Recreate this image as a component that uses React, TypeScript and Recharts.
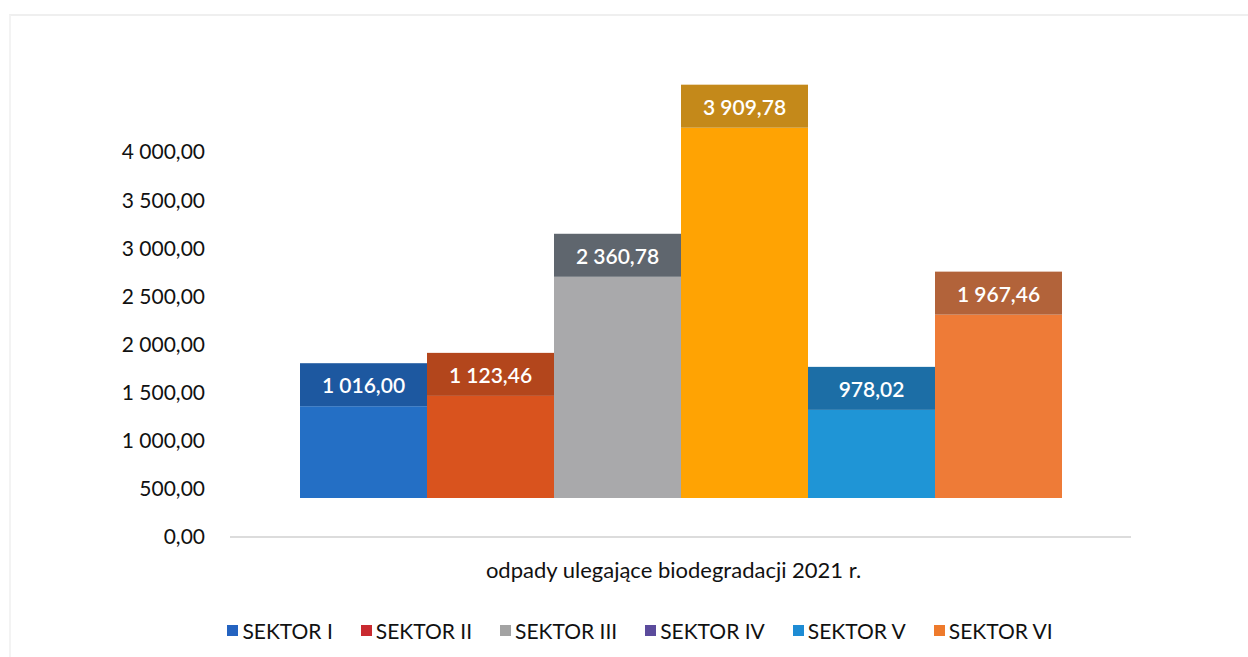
import React from 'react';
import { BarChart, Bar, XAxis, YAxis, Legend } from 'recharts';

const categoryLabel = 'odpady ulegające biodegradacji 2021 r.';
const seriesNames = ['SEKTOR I', 'SEKTOR II', 'SEKTOR III', 'SEKTOR IV', 'SEKTOR V', 'SEKTOR VI'];
const seriesValues = [1016.0, 1123.46, 2360.78, 3909.78, 978.02, 1967.46];
const frontColors = ['#246fc5', '#d9531e', '#a9a9ab', '#ffa303', '#1f95d6', '#ee7b37'];
const topColors = ['#1d58a0', '#b3461c', '#5f666e', '#c4891a', '#1c6ea6', '#b2633a'];
const legendColors = ['#2463c0', '#c92a30', '#a3a3a3', '#5b4b9c', '#1e8cd4', '#ee7a2c'];
const yTicks = [0, 500, 1000, 1500, 2000, 2500, 3000, 3500, 4000];

const keys = seriesNames.map((_, i) => `s${i}`);
const data = [
  seriesNames.reduce(
    (row: Record<string, any>, _n, i) => {
      row[keys[i]] = seriesValues[i];
      return row;
    },
    { name: categoryLabel }
  ),
];

const FONT = 'Lato, "Open Sans", sans-serif';

const fmt = (v: number) => {
  const [int, dec] = v.toFixed(2).split('.');
  return int.replace(/\B(?=(\d{3})+(?!\d))/g, ' ') + ',' + dec;
};

const LIFT = 33;
const TOP_H = 43;
const BASE_GAP = 39;

const make3D = (i: number) => (props: any) => {
  const { x, y, width, height } = props;
  if (x == null || y == null) return null;
  const frontTop = y - LIFT;
  const frontBottom = y + height - BASE_GAP;
  const topTop = frontTop - TOP_H;
  return (
    <g>
      <rect x={x} y={frontTop} width={width} height={Math.max(0, frontBottom - frontTop)} fill={frontColors[i]} />
      <rect x={x} y={topTop} width={width} height={TOP_H} fill={topColors[i]} />
      <text
        x={x + width / 2}
        y={topTop + TOP_H / 2}
        textAnchor="middle"
        dominantBaseline="central"
        fill="#ffffff"
        fontFamily={FONT}
        fontSize={21}
        fontWeight={600}
      >
        {fmt(seriesValues[i])}
      </text>
    </g>
  );
};

const LegendContent = () => (
  <div
    style={{
      display: 'flex',
      justifyContent: 'center',
      alignItems: 'center',
      fontFamily: FONT,
      fontSize: 21,
      color: '#111',
      height: 30,
    }}
  >
    {seriesNames.map((n, i) => (
      <div key={n} style={{ display: 'flex', alignItems: 'center', marginRight: i < seriesNames.length - 1 ? 28 : 0 }}>
        <span style={{ display: 'inline-block', width: 11, height: 11, background: legendColors[i], marginRight: 4 }} />
        <span>{n}</span>
      </div>
    ))}
  </div>
);

export default function App() {
  return (
    <div style={{ position: 'absolute', left: 0, top: 0, width: 1248, height: 657, background: '#ffffff' }}>
      <div
        style={{
          position: 'absolute',
          left: 9,
          top: 14,
          width: 1239,
          height: 643,
          borderTop: '2px solid #efefef',
          borderLeft: '2px solid #f3f3f3',
          boxSizing: 'border-box',
        }}
      />
      <div style={{ position: 'absolute', left: 0, top: 0 }}>
        <BarChart
          width={1248}
          height={657}
          data={data}
          margin={{ top: 152, right: 117, left: 0, bottom: 12 }}
          barCategoryGap={70}
          barGap={0}
        >
          <XAxis
            dataKey="name"
            height={78}
            tickSize={0}
            tickMargin={25}
            axisLine={{ stroke: '#dcdcdc', strokeWidth: 2 }}
            tick={{ fill: '#111', fontFamily: FONT, fontSize: 22, dx: -7 }}
          />
          <YAxis
            width={230}
            domain={[0, 4000]}
            ticks={yTicks}
            tickFormatter={fmt}
            axisLine={false}
            tickLine={false}
            tickSize={0}
            tickMargin={25}
            tick={{ fill: '#111', fontFamily: FONT, fontSize: 21 }}
          />
          <Legend verticalAlign="bottom" content={<LegendContent />} wrapperStyle={{ height: 30, left: 0, width: 1280 }} />
          {keys.map((k, i) => (
            <Bar key={k} dataKey={k} name={seriesNames[i]} fill={frontColors[i]} isAnimationActive={false} shape={make3D(i)} />
          ))}
        </BarChart>
      </div>
    </div>
  );
}
